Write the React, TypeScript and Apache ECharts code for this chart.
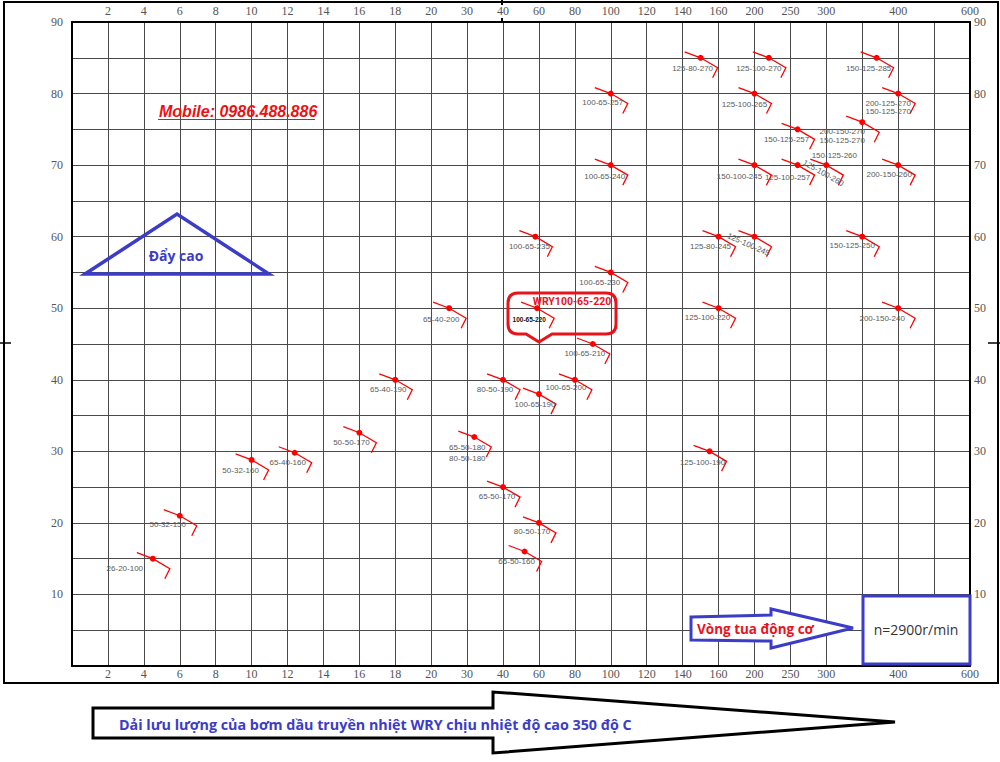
import React, { useEffect, useRef } from "react";
import * as echarts from "echarts";

// Flow axis: grid lines are evenly spaced, each line carries one of these flow values (m3/h)
const flowGrid = [0, 2, 4, 6, 8, 10, 12, 14, 16, 18, 20, 30, 40, 60, 80, 100, 120, 140, 160, 200, 250, 300, 350, 400, 500, 600];
const flowTickLabels = ["", "2", "4", "6", "8", "10", "12", "14", "16", "18", "20", "30", "40", "60", "80", "100", "120", "140", "160", "200", "250", "300", "", "400", "", "600"];
const headLabelStep = 10;

// Pump models (one dot each; some dots carry two model names)
const pumpLabels: string[][] = [
  ["26-20-100"], ["50-32-150"], ["50-32-160"], ["65-40-160"], ["50-50-170"], ["65-40-190"], ["65-40-200"],
  ["65-50-180", "80-50-180"], ["80-50-190"], ["100-65-190"], ["100-65-200"], ["100-65-210"], ["100-65-220"],
  ["100-65-230"], ["100-65-235"], ["100-65-240"], ["100-65-257"], ["65-50-170"], ["80-50-170"], ["65-50-160"],
  ["125-100-190"], ["125-100-220"], ["125-80-245"], ["125-100-245"], ["150-125-250"], ["200-150-240"],
  ["150-100-245"], ["125-100-257"], ["150-125-260", "125-100-260"], ["200-150-260"], ["150-125-257"],
  ["200-150-270", "150-125-270"], ["200-125-270", "150-125-270"], ["125-100-265"], ["125-80-270"],
  ["125-100-270"], ["150-125-285"],
];
const pumpFlow = [
  4.5, 6, 10, 12.4, 16, 18, 25,
  32, 40, 60, 80, 90, 59,
  100, 58, 100, 100, 40, 60, 52,
  155, 160, 160, 200, 350, 400,
  200, 260, 300, 400, 260,
  350, 400, 200, 150,
  220, 370,
];
const pumpHead = [
  15, 21, 28.8, 29.8, 32.6, 40, 50,
  32, 40, 38, 40, 45, 50,
  55, 60, 70, 80, 25, 20, 16,
  30, 50, 60, 60, 60, 50,
  70, 70, 70, 70, 75,
  76, 80, 80, 85,
  85, 85,
];
const highlightModel = "100-65-220";

// Layout only: label offsets (px) from each dot, optional rotation (deg)
const labelNudge: number[][][] = [
  [[-28, 10]], [[-12, 9]], [[-11, 11]], [[-7, 10]], [[-8, 10]], [[-7, 10]], [[-8, 11]],
  [[-7, 10], [-7, 21]], [[-8, 10]], [[-4, 10]], [[-9, 8]], [[-8, 9]], [[-8, 11]],
  [[-11, 10]], [[-6, 10]], [[-6, 11]], [[-8, 9]], [[-6, 9]], [[-7, 9]], [[-8, 10]],
  [[-7, 11]], [[-11, 9]], [[-8, 10]], [[-6, 8, -24]], [[-10, 9]], [[-16, 10]],
  [[-15, 11]], [[-10, 12]], [[8, -10], [-3, 8, -29]], [[-9, 9]], [[-11, 10]],
  [[-20, 9], [-20, 18]], [[-10, 10], [-10, 18]], [[-10, 11]], [[-8, 11]],
  [[-10, 11]], [[-8, 11]],
];

function flowToPos(f: number) {
  for (let i = 0; i < flowGrid.length - 1; i++) {
    if (f <= flowGrid[i + 1]) return i + (f - flowGrid[i]) / (flowGrid[i + 1] - flowGrid[i]);
  }
  return flowGrid.length - 1;
}

const CALLOUT_D =
  "M508,303 Q508,293 518,293 L606,293 Q616,293 616,303 L616,324 Q616,334 606,334 L552,334 L539,342 L526,334 L518,334 Q508,334 508,324 Z";

const BLUE = "#3b3cc8";
const RED = "#e8141c";

export default function App() {
  const ref = useRef<HTMLDivElement>(null);
  useEffect(() => {
    document.body.style.margin = "0";
    echarts.graphic.registerShape("callout", echarts.graphic.extendPath(CALLOUT_D, {}));
    const chart = echarts.init(ref.current!, null, { renderer: "svg" });

    const labelFont = { fontFamily: "Liberation Serif", fontSize: 12, color: "#555", lineHeight: 10 };
    const xLabelFmt = (v: number) => flowTickLabels[Math.round(v)] ?? "";
    const yLabelFmt = (v: number) => (v > 0 && v % headLabelStep === 0 ? String(v) : "");
    const axisLine = { show: true, onZero: false, lineStyle: { color: "#000", width: 2 } };
    const split = { show: true, lineStyle: { color: "#4a4a4a", width: 1 } };

    const data = pumpFlow.map((f, i) => [flowToPos(f), pumpHead[i], i]);

    const txt = (x: number, y: number, text: string, s: any, extra: any = {}) => ({
      type: "text",
      x,
      y,
      z: 100,
      ...extra,
      style: {
        text,
        align: s.align || "left",
        textAlign: s.align || "left",
        verticalAlign: "middle",
        textVerticalAlign: "middle",
        ...s,
      },
    });

    const option: any = {
      animation: false,
      backgroundColor: "#fff",
      grid: { left: 72, right: 30, top: 22, bottom: 96, containLabel: false },
      xAxis: [
        {
          type: "value", position: "bottom", min: 0, max: 25, interval: 1,
          axisLine, axisTick: { show: false }, splitLine: split,
          axisLabel: { ...labelFont, margin: 3, formatter: xLabelFmt, showMinLabel: true, showMaxLabel: true },
        },
        {
          type: "value", position: "top", min: 0, max: 25, interval: 1,
          axisLine, axisTick: { show: false }, splitLine: { show: false },
          axisLabel: { ...labelFont, margin: 6, formatter: xLabelFmt, showMinLabel: true, showMaxLabel: true },
        },
      ],
      yAxis: [
        {
          type: "value", position: "left", min: 0, max: 90, interval: 5,
          axisLine, axisTick: { show: false }, splitLine: split,
          axisLabel: { ...labelFont, margin: 9, formatter: yLabelFmt },
        },
        {
          type: "value", position: "right", min: 0, max: 90, interval: 5,
          axisLine, axisTick: { show: false }, splitLine: { show: false },
          axisLabel: { ...labelFont, margin: 4, formatter: yLabelFmt },
        },
      ],
      series: [
        {
          type: "custom",
          xAxisIndex: 0,
          yAxisIndex: 0,
          clip: false,
          z: 10,
          data,
          renderItem: (params: any, api: any) => {
            const i = api.value(2);
            const [px, py] = api.coord([api.value(0), api.value(1)]);
            const children: any[] = [
              {
                type: "polyline",
                shape: { points: [[px - 16, py - 6], [px, py], [px + 17, py + 10], [px + 12, py + 20]] },
                style: { stroke: "#ff0000", lineWidth: 1.3, fill: "none" },
              },
              { type: "circle", shape: { cx: px, cy: py, r: 3 }, style: { fill: "#ff0000" } },
            ];
            pumpLabels[i].forEach((name, k) => {
              const nd = labelNudge[i][k];
              const special = name === highlightModel;
              children.push({
                type: "text",
                x: px + nd[0],
                y: py + nd[1],
                rotation: nd[2] ? (nd[2] * Math.PI) / 180 : 0,
                style: {
                  text: name,
                  fill: special ? "#111" : "#5a5a5a",
                  fontFamily: "Liberation Sans",
                  fontSize: special ? 6.5 : 8,
                  fontWeight: special ? "bold" : "normal",
                  align: "center",
                  textAlign: "center",
                  verticalAlign: "middle",
                  textVerticalAlign: "middle",
                },
              });
            });
            return { type: "group", children };
          },
        },
      ],
      graphic: [
        // outer frame
        { type: "rect", z: 100, shape: { x: 4, y: 2, width: 994, height: 681 }, style: { fill: "none", stroke: "#000", lineWidth: 2 } },
        { type: "line", z: 100, shape: { x1: 0, y1: 343, x2: 11, y2: 343 }, style: { stroke: "#000", lineWidth: 1.5 } },
        { type: "line", z: 100, shape: { x1: 988, y1: 343, x2: 1000, y2: 343 }, style: { stroke: "#000", lineWidth: 1.5 } },
        { type: "line", z: 100, shape: { x1: 502, y1: 0, x2: 502, y2: 5 }, style: { stroke: "#000", lineWidth: 2 } },
        { type: "line", z: 100, shape: { x1: 502, y1: 18, x2: 502, y2: 23 }, style: { stroke: "#000", lineWidth: 2 } },
        // mobile
        txt(159, 111, "Mobile: 0986.488.886", { fill: "#ee1111", fontFamily: "Liberation Sans", fontSize: 16, fontWeight: "bold", fontStyle: "italic" }),
        { type: "line", z: 100, shape: { x1: 158, y1: 119.5, x2: 315, y2: 119.5 }, style: { stroke: "#ee1111", lineWidth: 1.2 } },
        // triangle
        { type: "polygon", z: 100, shape: { points: [[85, 274], [177, 214], [269, 274]] }, style: { fill: "none", stroke: BLUE, lineWidth: 3.5, lineJoin: "miter" } },
        txt(176, 255, "Đẩy cao", { fill: BLUE, fontFamily: "Open Sans", fontSize: 14, fontWeight: "bold", align: "center" }),
        // callout
        { type: "callout", z: 100, x: 0, y: 0, style: { fill: "none", stroke: RED, lineWidth: 3 } },
        txt(572, 301, "WRY100-65-220", { fill: RED, fontFamily: "Roboto", fontSize: 10.5, fontWeight: "bold", align: "center" }),
        // rpm arrow
        {
          type: "polygon", z: 100,
          shape: { points: [[691, 617], [771, 615], [771, 609], [853, 628], [771, 648], [771, 641], [691, 640]] },
          style: { fill: "#fff", stroke: BLUE, lineWidth: 3, lineJoin: "miter" },
        },
        txt(697, 629, "Vòng tua động cơ", { fill: RED, fontFamily: "Open Sans", fontSize: 13.5, fontWeight: "bold" }),
        // rpm box
        { type: "rect", z: 100, shape: { x: 863, y: 596, width: 107, height: 68 }, style: { fill: "#fff", stroke: BLUE, lineWidth: 3 } },
        txt(916, 629, "n=2900r/min", { fill: "#333", fontFamily: "Open Sans", fontSize: 14, align: "center" }),
        // bottom arrow
        {
          type: "polygon", z: 100,
          shape: { points: [[93, 708], [493, 708], [493, 692], [895, 722], [493, 753], [493, 738], [93, 738]] },
          style: { fill: "#fff", stroke: "#000", lineWidth: 3, lineJoin: "miter" },
        },
        txt(119, 724, "Dải lưu lượng của bơm dầu truyền nhiệt WRY chịu nhiệt độ cao 350 độ C", {
          fill: BLUE, fontFamily: "Open Sans", fontSize: 14.3, fontWeight: "bold",
        }),
      ],
    };
    chart.setOption(option);
    return () => chart.dispose();
  }, []);
  return <div ref={ref} style={{ width: 1000, height: 762 }} />;
}
